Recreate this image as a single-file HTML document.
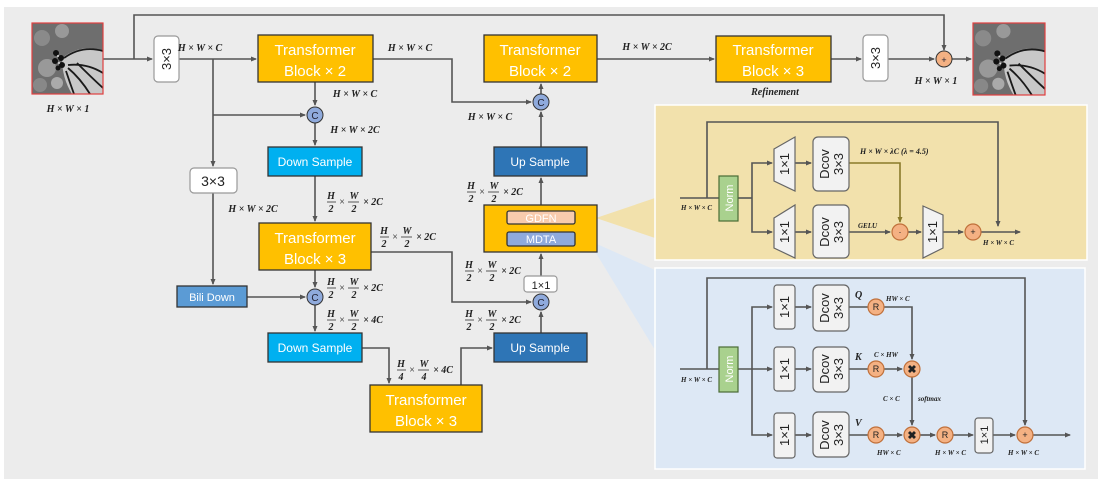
<!DOCTYPE html>
<html><head><meta charset="utf-8"><style>
html,body{margin:0;padding:0;background:#fff}
svg{display:block}
.m{font-family:"Liberation Serif",serif;font-style:italic;font-weight:bold;font-size:10px;fill:#222}
.s{font-family:"Liberation Serif",serif;font-style:italic;font-weight:bold;font-size:7px;fill:#222}
.b{font-family:"Liberation Sans",sans-serif;fill:#fff}
.k{font-family:"Liberation Sans",sans-serif;fill:#222}
</style></head><body>
<svg width="1108" height="486" viewBox="0 0 1108 486" xmlns="http://www.w3.org/2000/svg">
<defs>
<marker id="a" markerWidth="6" markerHeight="6" refX="5" refY="3" orient="auto" markerUnits="userSpaceOnUse"><path d="M0,0.5 L6,3 L0,5.5 z" fill="#555"/></marker>
<marker id="ao" markerWidth="6" markerHeight="6" refX="5" refY="3" orient="auto" markerUnits="userSpaceOnUse"><path d="M0,0.5 L6,3 L0,5.5 z" fill="#8a7a2a"/></marker>
<g id="bfly">
<rect x="0" y="0" width="71" height="71" fill="#6e6e6e"/>
<circle cx="10" cy="15" r="8" fill="#8a8a8a"/><circle cx="15" cy="45" r="9" fill="#999"/><circle cx="8" cy="62" r="7" fill="#888"/><circle cx="30" cy="8" r="7" fill="#999"/><circle cx="25" cy="60" r="6" fill="#aaa"/>
<path d="M30,35 Q50,20 71,28 L71,71 L40,71 Q30,55 30,35 z" fill="#c8c8c8"/>
<g stroke="#1a1a1a" stroke-width="1.8" fill="none"><path d="M32,35 Q50,22 71,28"/><path d="M36,42 Q55,40 71,50"/><path d="M36,45 Q48,55 58,71"/><path d="M34,48 Q38,60 42,71"/><path d="M45,40 Q60,55 71,65"/></g>
<g fill="#111"><circle cx="24" cy="30" r="3"/><circle cx="29" cy="35" r="3"/><circle cx="23" cy="38" r="3"/><circle cx="30" cy="42" r="3"/><circle cx="26" cy="45" r="2.5"/></g>
<g fill="#ddd"><circle cx="26" cy="33" r="1"/><circle cx="27" cy="40" r="1"/></g>
</g>
</defs>
<rect x="4" y="7" width="1094" height="472" fill="#ececec"/>

<polygon points="596,218 655,198 655,238" fill="#f2e1ac"/>
<polygon points="588,240 655,270 655,350" fill="#dde8f5"/>
<rect x="655" y="105" width="432" height="155" fill="#f2e1ac" stroke="#fff" stroke-width="1.5"/>
<rect x="655" y="268" width="430" height="201" fill="#dde8f5" stroke="#fff" stroke-width="1.5"/>

<g stroke="#555" stroke-width="1.6" fill="none">
<line x1="103" y1="59" x2="152" y2="59" marker-end="url(#a)"/>
<polyline points="134,59 134,15 944,15 944,50" marker-end="url(#a)"/>
<line x1="179" y1="59" x2="256" y2="59" marker-end="url(#a)"/>
<polyline points="213,59 213,166" marker-end="url(#a)"/>
<polyline points="213,115 305,115" marker-end="url(#a)"/>
<line x1="315" y1="82" x2="315" y2="105" marker-end="url(#a)"/>
<line x1="315" y1="123" x2="315" y2="145" marker-end="url(#a)"/>
<polyline points="373,59 452,59 452,102 531,102" marker-end="url(#a)"/>
<line x1="315" y1="176" x2="315" y2="221" marker-end="url(#a)"/>
<line x1="213" y1="193" x2="213" y2="284" marker-end="url(#a)"/>
<line x1="247" y1="297" x2="305" y2="297" marker-end="url(#a)"/>
<line x1="315" y1="270" x2="315" y2="287" marker-end="url(#a)"/>
<line x1="315" y1="305" x2="315" y2="331" marker-end="url(#a)"/>
<polyline points="371,252 452,252 452,302 531,302" marker-end="url(#a)"/>
<polyline points="362,348 389,348 389,383" marker-end="url(#a)"/>
<polyline points="461,385 461,348 492,348" marker-end="url(#a)"/>
<line x1="541" y1="333" x2="541" y2="312" marker-end="url(#a)"/>
<line x1="541" y1="276" x2="541" y2="254" marker-end="url(#a)"/>
<line x1="541" y1="205" x2="541" y2="178" marker-end="url(#a)"/>
<line x1="541" y1="147" x2="541" y2="112" marker-end="url(#a)"/>
<line x1="541" y1="94" x2="541" y2="84" marker-end="url(#a)"/>
<line x1="541" y1="232" x2="541" y2="226" marker-end="url(#a)"/>
<line x1="597" y1="59" x2="714" y2="59" marker-end="url(#a)"/>
<line x1="831" y1="59" x2="861" y2="59" marker-end="url(#a)"/>
<line x1="888" y1="59" x2="934" y2="59" marker-end="url(#a)"/>
<line x1="952" y1="59" x2="971" y2="59" marker-end="url(#a)"/>

<line x1="680" y1="198" x2="719" y2="198"/>
<polyline points="707,198 707,122 998,122 998,226" marker-end="url(#a)"/>
<line x1="738" y1="198" x2="752" y2="198"/>
<polyline points="752,198 752,163 772,163" marker-end="url(#a)"/>
<polyline points="752,198 752,232 772,232" marker-end="url(#a)"/>
<line x1="795" y1="163" x2="811" y2="163" marker-end="url(#a)"/>
<line x1="795" y1="232" x2="811" y2="232" marker-end="url(#a)"/>
<line x1="849" y1="232" x2="890" y2="232" marker-end="url(#a)"/>
<line x1="908" y1="232" x2="921" y2="232" marker-end="url(#a)"/>
<line x1="943" y1="232" x2="963" y2="232" marker-end="url(#a)"/>
<line x1="981" y1="232" x2="1020" y2="232" marker-end="url(#a)"/>

<line x1="680" y1="369" x2="719" y2="369"/>
<polyline points="707,369 707,278 1025,278 1025,425" marker-end="url(#a)"/>
<line x1="738" y1="369" x2="772" y2="369" marker-end="url(#a)"/>
<polyline points="752,369 752,307 772,307" marker-end="url(#a)"/>
<polyline points="752,369 752,435 772,435" marker-end="url(#a)"/>
<line x1="795" y1="307" x2="811" y2="307" marker-end="url(#a)"/>
<line x1="795" y1="369" x2="811" y2="369" marker-end="url(#a)"/>
<line x1="795" y1="435" x2="811" y2="435" marker-end="url(#a)"/>
<line x1="849" y1="307" x2="868" y2="307"/>
<line x1="849" y1="369" x2="868" y2="369"/>
<line x1="849" y1="435" x2="868" y2="435"/>
<polyline points="884,307 912,307 912,359" marker-end="url(#a)"/>
<line x1="884" y1="369" x2="902" y2="369" marker-end="url(#a)"/>
<line x1="912" y1="377" x2="912" y2="425" marker-end="url(#a)"/>
<line x1="884" y1="435" x2="902" y2="435" marker-end="url(#a)"/>
<line x1="920" y1="435" x2="935" y2="435" marker-end="url(#a)"/>
<line x1="953" y1="435" x2="973" y2="435" marker-end="url(#a)"/>
<line x1="993" y1="435" x2="1015" y2="435" marker-end="url(#a)"/>
<line x1="1033" y1="435" x2="1070" y2="435" marker-end="url(#a)"/>
</g>
<polyline points="849,163 900,163 900,222" fill="none" stroke="#8a7a2a" stroke-width="1.6" marker-end="url(#ao)"/>

<g transform="translate(32,23)"><use href="#bfly"/><rect x="0" y="0" width="71" height="71" fill="none" stroke="#e04040" stroke-width="1.2"/></g>
<g transform="translate(973,23) scale(1.014)"><use href="#bfly"/><rect x="0" y="0" width="71" height="71" fill="none" stroke="#e04040" stroke-width="1.2"/></g>

<g stroke="#333" stroke-width="1.3">
<rect x="258" y="35" width="115" height="47" fill="#ffc000"/>
<rect x="484" y="35" width="113" height="47" fill="#ffc000"/>
<rect x="716" y="36" width="115" height="46" fill="#ffc000"/>
<rect x="259" y="223" width="112" height="47" fill="#ffc000"/>
<rect x="370" y="385" width="112" height="47" fill="#ffc000"/>
<rect x="484" y="205" width="113" height="47" fill="#ffc000"/>
<rect x="268" y="147" width="94" height="29" fill="#00b0f0"/>
<rect x="268" y="333" width="94" height="29" fill="#00b0f0"/>
<rect x="494" y="147" width="93" height="29" fill="#2e75b6"/>
<rect x="494" y="333" width="93" height="29" fill="#2e75b6"/>
<rect x="177" y="286" width="70" height="21" fill="#5b9bd5"/>
<rect x="507" y="211" width="68" height="13" rx="2" fill="#f8cbad"/>
<rect x="507" y="232" width="68" height="14" rx="2" fill="#8faadc"/>
</g>
<g stroke="#999" stroke-width="1.2" fill="#fff">
<rect x="154" y="36" width="25" height="46" rx="4"/>
<rect x="863" y="35" width="25" height="46" rx="4"/>
<rect x="190" y="168" width="47" height="25" rx="4"/>
<rect x="524" y="276" width="33" height="16" rx="3"/>
</g>
<g class="b" text-anchor="middle" font-size="15">
<text x="315" y="55">Transformer</text><text x="315" y="76">Block × 2</text>
<text x="540" y="55">Transformer</text><text x="540" y="76">Block × 2</text>
<text x="773" y="55">Transformer</text><text x="773" y="76">Block × 3</text>
<text x="315" y="243">Transformer</text><text x="315" y="264">Block × 3</text>
<text x="426" y="405">Transformer</text><text x="426" y="426">Block × 3</text>
<text x="315" y="166" font-size="12">Down Sample</text>
<text x="315" y="352" font-size="12">Down Sample</text>
<text x="540" y="166" font-size="12">Up Sample</text>
<text x="540" y="352" font-size="12">Up Sample</text>
<text x="212" y="301" font-size="11">Bili Down</text>
<text x="541" y="222" font-size="11">GDFN</text>
<text x="541" y="243" font-size="11">MDTA</text>
</g>
<g class="k" text-anchor="middle">
<text x="213" y="186" font-size="14">3×3</text>
<text x="541" y="289" font-size="11">1×1</text>
<text transform="translate(171,59) rotate(-90)" font-size="13">3×3</text>
<text transform="translate(880,58) rotate(-90)" font-size="13">3×3</text>
</g>

<g stroke="#333" stroke-width="1">
<circle cx="315" cy="115" r="8" fill="#8faadc"/><circle cx="541" cy="102" r="8" fill="#8faadc"/>
<circle cx="315" cy="297" r="8" fill="#8faadc"/><circle cx="541" cy="302" r="8" fill="#8faadc"/>
<circle cx="944" cy="59" r="8" fill="#f4b183"/>
</g>
<g font-family="Liberation Sans,sans-serif" font-size="10" text-anchor="middle" fill="#223">
<text x="315" y="119">C</text><text x="541" y="106">C</text><text x="315" y="301">C</text><text x="541" y="306">C</text><text x="944" y="63" font-size="9">+</text>
</g>

<g class="m" text-anchor="middle">
<text x="68" y="112">H × W × 1</text>
<text x="200" y="51">H × W × C</text>
<text x="355" y="97">H × W × C</text>
<text x="355" y="133">H × W × 2C</text>
<text x="410" y="51">H × W × C</text>
<text x="490" y="120">H × W × C</text>
<text x="647" y="50">H × W × 2C</text>
<text x="936" y="84">H × W × 1</text>
<text x="775" y="95">Refinement</text>
<text x="253" y="212">H × W × 2C</text>
</g>
<g class="m" text-anchor="middle" stroke-width="0.8">
<g transform="translate(327,202)"><text x="4" y="-3">H</text><line x1="0" x2="9" y1="0" y2="0" stroke="#333"/><text x="4" y="10">2</text><text x="15" y="3" font-weight="normal">×</text><text x="27" y="-3">W</text><line x1="21" x2="32" y1="0" y2="0" stroke="#333"/><text x="27" y="10">2</text><text x="46" y="3">× 2C</text></g>
<g transform="translate(380,237)"><text x="4" y="-3">H</text><line x1="0" x2="9" y1="0" y2="0" stroke="#333"/><text x="4" y="10">2</text><text x="15" y="3" font-weight="normal">×</text><text x="27" y="-3">W</text><line x1="21" x2="32" y1="0" y2="0" stroke="#333"/><text x="27" y="10">2</text><text x="46" y="3">× 2C</text></g>
<g transform="translate(327,288)"><text x="4" y="-3">H</text><line x1="0" x2="9" y1="0" y2="0" stroke="#333"/><text x="4" y="10">2</text><text x="15" y="3" font-weight="normal">×</text><text x="27" y="-3">W</text><line x1="21" x2="32" y1="0" y2="0" stroke="#333"/><text x="27" y="10">2</text><text x="46" y="3">× 2C</text></g>
<g transform="translate(327,320)"><text x="4" y="-3">H</text><line x1="0" x2="9" y1="0" y2="0" stroke="#333"/><text x="4" y="10">2</text><text x="15" y="3" font-weight="normal">×</text><text x="27" y="-3">W</text><line x1="21" x2="32" y1="0" y2="0" stroke="#333"/><text x="27" y="10">2</text><text x="46" y="3">× 4C</text></g>
<g transform="translate(397,370)"><text x="4" y="-3">H</text><line x1="0" x2="9" y1="0" y2="0" stroke="#333"/><text x="4" y="10">4</text><text x="15" y="3" font-weight="normal">×</text><text x="27" y="-3">W</text><line x1="21" x2="32" y1="0" y2="0" stroke="#333"/><text x="27" y="10">4</text><text x="46" y="3">× 4C</text></g>
<g transform="translate(465,320)"><text x="4" y="-3">H</text><line x1="0" x2="9" y1="0" y2="0" stroke="#333"/><text x="4" y="10">2</text><text x="15" y="3" font-weight="normal">×</text><text x="27" y="-3">W</text><line x1="21" x2="32" y1="0" y2="0" stroke="#333"/><text x="27" y="10">2</text><text x="46" y="3">× 2C</text></g>
<g transform="translate(465,271)"><text x="4" y="-3">H</text><line x1="0" x2="9" y1="0" y2="0" stroke="#333"/><text x="4" y="10">2</text><text x="15" y="3" font-weight="normal">×</text><text x="27" y="-3">W</text><line x1="21" x2="32" y1="0" y2="0" stroke="#333"/><text x="27" y="10">2</text><text x="46" y="3">× 2C</text></g>
<g transform="translate(467,192)"><text x="4" y="-3">H</text><line x1="0" x2="9" y1="0" y2="0" stroke="#333"/><text x="4" y="10">2</text><text x="15" y="3" font-weight="normal">×</text><text x="27" y="-3">W</text><line x1="21" x2="32" y1="0" y2="0" stroke="#333"/><text x="27" y="10">2</text><text x="46" y="3">× 2C</text></g>
</g>

<g stroke="#666" stroke-width="1.2">
<rect x="719" y="176" width="19" height="45" fill="#a9d18e" stroke="#4a6b35"/>
<polygon points="774,149 795,137 795,191 774,181" fill="#f2f2f2"/>
<polygon points="774,218 795,205 795,258 774,248" fill="#f2f2f2"/>
<polygon points="923,206 943,215 943,248 923,258" fill="#f2f2f2"/>
<rect x="813" y="137" width="36" height="54" rx="5" fill="#f2f2f2"/>
<rect x="813" y="205" width="36" height="53" rx="5" fill="#f2f2f2"/>
<circle cx="900" cy="232" r="8" fill="#f4b183" stroke="#c0703a"/>
<circle cx="973" cy="232" r="8" fill="#f4b183" stroke="#c0703a"/>
</g>
<g class="k" text-anchor="middle">
<text transform="translate(733,198) rotate(-90)" font-size="11" style="fill:#fff">Norm</text>
<text transform="translate(789,164) rotate(-90)" font-size="13">1×1</text>
<text transform="translate(789,232) rotate(-90)" font-size="13">1×1</text>
<text transform="translate(937,232) rotate(-90)" font-size="13">1×1</text>
<text transform="translate(829,164) rotate(-90)" font-size="13">Dcov</text>
<text transform="translate(843,164) rotate(-90)" font-size="13">3×3</text>
<text transform="translate(829,232) rotate(-90)" font-size="13">Dcov</text>
<text transform="translate(843,232) rotate(-90)" font-size="13">3×3</text>
<text x="900" y="235" font-size="9">·</text>
<text x="973" y="235" font-size="9">+</text>
</g>
<g class="s">
<text x="681" y="210">H × W × C</text>
<text x="860" y="154" font-size="8">H × W × λC (λ = 4.5)</text>
<text x="858" y="228">GELU</text>
<text x="983" y="245">H × W × C</text>
</g>

<g stroke="#666" stroke-width="1.2">
<rect x="719" y="347" width="19" height="45" fill="#a9d18e" stroke="#4a6b35"/>
<rect x="774" y="285" width="21" height="44" rx="3" fill="#f2f2f2"/>
<rect x="774" y="347" width="21" height="44" rx="3" fill="#f2f2f2"/>
<rect x="774" y="413" width="21" height="45" rx="3" fill="#f2f2f2"/>
<rect x="813" y="285" width="36" height="46" rx="5" fill="#f2f2f2"/>
<rect x="813" y="347" width="36" height="45" rx="5" fill="#f2f2f2"/>
<rect x="813" y="412" width="36" height="45" rx="5" fill="#f2f2f2"/>
<rect x="975" y="418" width="18" height="35" rx="3" fill="#f2f2f2"/>
<g fill="#f4b183" stroke="#c0703a">
<circle cx="876" cy="307" r="8"/><circle cx="876" cy="369" r="8"/><circle cx="876" cy="435" r="8"/>
<circle cx="912" cy="369" r="8"/><circle cx="912" cy="435" r="8"/><circle cx="945" cy="435" r="8"/><circle cx="1025" cy="435" r="8"/>
</g>
</g>
<g class="k" text-anchor="middle">
<text transform="translate(733,369) rotate(-90)" font-size="11" style="fill:#fff">Norm</text>
<text transform="translate(789,307) rotate(-90)" font-size="13">1×1</text>
<text transform="translate(789,369) rotate(-90)" font-size="13">1×1</text>
<text transform="translate(789,435) rotate(-90)" font-size="13">1×1</text>
<text transform="translate(988,435) rotate(-90)" font-size="11">1×1</text>
<text transform="translate(829,308) rotate(-90)" font-size="13">Dcov</text>
<text transform="translate(843,308) rotate(-90)" font-size="13">3×3</text>
<text transform="translate(829,369) rotate(-90)" font-size="13">Dcov</text>
<text transform="translate(843,369) rotate(-90)" font-size="13">3×3</text>
<text transform="translate(829,435) rotate(-90)" font-size="13">Dcov</text>
<text transform="translate(843,435) rotate(-90)" font-size="13">3×3</text>
<g font-size="9"><text x="876" y="310">R</text><text x="876" y="372">R</text><text x="876" y="438">R</text><text x="945" y="438">R</text><text x="1025" y="438">+</text>
<text x="912" y="373" font-size="11" font-weight="bold">✖</text><text x="912" y="439" font-size="11" font-weight="bold">✖</text></g>
</g>
<g class="s">
<text x="681" y="382">H × W × C</text>
<text x="886" y="301">HW × C</text>
<text x="874" y="357">C × HW</text>
<text x="883" y="401">C × C</text>
<text x="918" y="401">softmax</text>
<text x="877" y="455">HW × C</text>
<text x="935" y="455">H × W × C</text>
<text x="1008" y="455">H × W × C</text>
</g>
<g class="m" font-size="11">
<text x="855" y="298">Q</text><text x="855" y="360">K</text><text x="855" y="426">V</text>
</g>
</svg>
</body></html>
